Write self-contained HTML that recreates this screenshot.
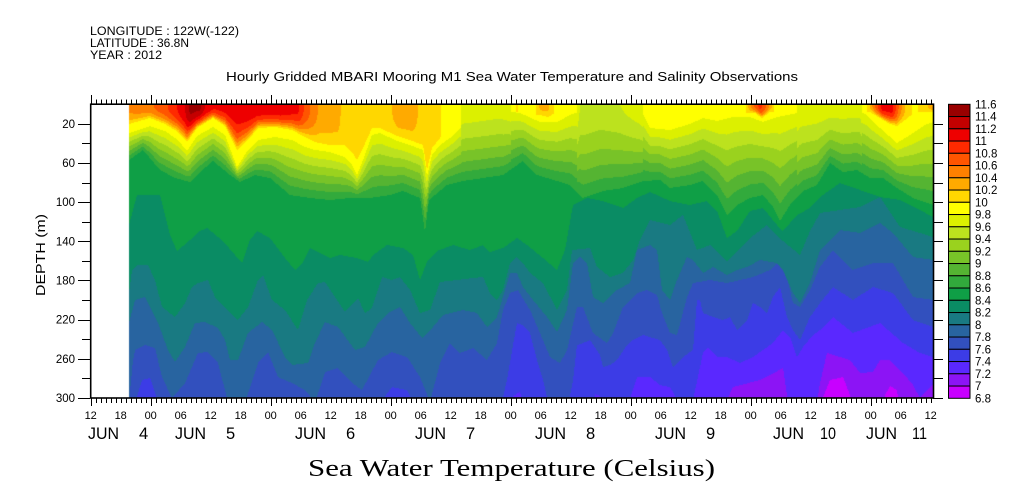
<!DOCTYPE html>
<html>
<head>
<meta charset="utf-8">
<style>
html,body{margin:0;padding:0;background:#fff;}
#wrap{position:relative;width:1009px;height:504px;overflow:hidden;background:#fff;}
#c{position:absolute;left:91px;top:105px;}
#s{position:absolute;left:0;top:0;}
text{font-family:"Liberation Sans",sans-serif;fill:#000;}
</style>
</head>
<body>
<div id="wrap">
<canvas id="c" width="842" height="293"></canvas>
<svg id="s" width="1009" height="504" xmlns="http://www.w3.org/2000/svg">
  <!-- header -->
  <text x="90" y="35" font-size="11.5" textLength="149" lengthAdjust="spacingAndGlyphs">LONGITUDE : 122W(-122)</text>
  <text x="90" y="47" font-size="11.5" textLength="99" lengthAdjust="spacingAndGlyphs">LATITUDE : 36.8N</text>
  <text x="90" y="59" font-size="11.5" textLength="72" lengthAdjust="spacingAndGlyphs">YEAR : 2012</text>
  <text x="226" y="81" font-size="13" textLength="572" lengthAdjust="spacingAndGlyphs">Hourly Gridded MBARI Mooring M1 Sea Water Temperature and Salinity Observations</text>

  <!-- frame -->
  <rect x="90.7" y="104.2" width="842.8" height="293.8" fill="none" stroke="#000" stroke-width="1.6"/>
  <path id="ticks" d="" stroke="#000" stroke-width="1" fill="none"/>

  <!-- y labels -->
  <g font-size="11.5" text-anchor="end">
    <text x="75" y="127.8">20</text>
    <text x="75" y="167">60</text>
    <text x="75" y="206.1">100</text>
    <text x="75" y="245.3">140</text>
    <text x="75" y="284.5">180</text>
    <text x="75" y="323.6">220</text>
    <text x="75" y="362.8">260</text>
    <text x="75" y="402">300</text>
  </g>
  <text x="45" y="255" font-size="12.5" text-anchor="middle" transform="rotate(-90 45 255)" textLength="82" lengthAdjust="spacingAndGlyphs" dx="0" dy="0">DEPTH (m)</text>

  <!-- x labels -->
  <g font-size="11" text-anchor="middle">
    <text x="90.7" y="419">12</text><text x="120.7" y="419">18</text><text x="150.7" y="419">00</text><text x="180.7" y="419">06</text>
    <text x="210.7" y="419">12</text><text x="240.7" y="419">18</text><text x="270.7" y="419">00</text><text x="300.7" y="419">06</text>
    <text x="330.7" y="419">12</text><text x="360.7" y="419">18</text><text x="390.7" y="419">00</text><text x="420.7" y="419">06</text>
    <text x="450.7" y="419">12</text><text x="480.7" y="419">18</text><text x="510.7" y="419">00</text><text x="540.7" y="419">06</text>
    <text x="570.7" y="419">12</text><text x="600.7" y="419">18</text><text x="630.7" y="419">00</text><text x="660.7" y="419">06</text>
    <text x="690.7" y="419">12</text><text x="720.7" y="419">18</text><text x="750.7" y="419">00</text><text x="780.7" y="419">06</text>
    <text x="810.7" y="419">12</text><text x="840.7" y="419">18</text><text x="870.7" y="419">00</text><text x="900.7" y="419">06</text>
    <text x="930.7" y="419">12</text>
  </g>
  <g font-size="16.5">
    <text x="88" y="439" textLength="31" lengthAdjust="spacingAndGlyphs">JUN</text><text x="139" y="439">4</text>
    <text x="175" y="439" textLength="31" lengthAdjust="spacingAndGlyphs">JUN</text><text x="226" y="439">5</text>
    <text x="295" y="439" textLength="31" lengthAdjust="spacingAndGlyphs">JUN</text><text x="346" y="439">6</text>
    <text x="415" y="439" textLength="31" lengthAdjust="spacingAndGlyphs">JUN</text><text x="466" y="439">7</text>
    <text x="535" y="439" textLength="31" lengthAdjust="spacingAndGlyphs">JUN</text><text x="586" y="439">8</text>
    <text x="655" y="439" textLength="31" lengthAdjust="spacingAndGlyphs">JUN</text><text x="706" y="439">9</text>
    <text x="773" y="439" textLength="31" lengthAdjust="spacingAndGlyphs">JUN</text><text x="820" y="439" textLength="16" lengthAdjust="spacingAndGlyphs">10</text>
    <text x="866" y="439" textLength="31" lengthAdjust="spacingAndGlyphs">JUN</text><text x="912" y="439" textLength="15" lengthAdjust="spacingAndGlyphs">11</text>
  </g>

  <text x="308" y="476" font-family="Liberation Serif, serif" font-size="24" textLength="407" lengthAdjust="spacingAndGlyphs" style="font-family:'Liberation Serif',serif">Sea Water Temperature (Celsius)</text>

  <!-- colorbar -->
  <g id="cbar" stroke="#000" stroke-width="1"></g>
  <g font-size="11.5">
    <text x="975" y="108.3">11.6</text>
    <text x="975" y="120.55">11.4</text>
    <text x="975" y="132.8">11.2</text>
    <text x="975" y="145.05">11</text>
    <text x="975" y="157.3">10.8</text>
    <text x="975" y="169.55">10.6</text>
    <text x="975" y="181.8">10.4</text>
    <text x="975" y="194.05">10.2</text>
    <text x="975" y="206.3">10</text>
    <text x="975" y="218.55">9.8</text>
    <text x="975" y="230.8">9.6</text>
    <text x="975" y="243.05">9.4</text>
    <text x="975" y="255.3">9.2</text>
    <text x="975" y="267.55">9</text>
    <text x="975" y="279.8">8.8</text>
    <text x="975" y="292.05">8.6</text>
    <text x="975" y="304.3">8.4</text>
    <text x="975" y="316.55">8.2</text>
    <text x="975" y="328.8">8</text>
    <text x="975" y="341.05">7.8</text>
    <text x="975" y="353.3">7.6</text>
    <text x="975" y="365.55">7.4</text>
    <text x="975" y="377.8">7.2</text>
    <text x="975" y="390.05">7</text>
    <text x="975" y="402.3">6.8</text>
  </g>
</svg>
</div>
<script>
(function(){
var cols=['#c800ff','#8c14f5','#5a28ff','#3c3ce6','#3250be','#2864a0','#197a82','#0a8c64','#0f9f46','#32aa3c','#55b432','#78c328','#9ad21e','#bce21e','#dcf000','#ffff00','#ffd700','#ffaa00','#ff8000','#ff5500','#ff2a00','#ee0000','#c40000','#990000'];
// colorbar
var NS='http://www.w3.org/2000/svg';
var cb=document.getElementById('cbar');
for(var i=0;i<24;i++){
  var r=document.createElementNS(NS,'rect');
  r.setAttribute('x',948.5);r.setAttribute('y',(104.3+12.25*i).toFixed(2));
  r.setAttribute('width',21.5);r.setAttribute('height',12.25);
  r.setAttribute('fill',cols[23-i]);cb.appendChild(r);
}
// ticks
var d='';
for(var k=0;k<=168;k++){
  var x=Math.round(90.7+5*k)+0.5;
  var major=(k===0)||((k-12)%24===0);
  d+='M'+x+' 104V'+(major?95:99.5);
  d+='M'+x+' 398V'+(major?406:403);
}
for(var dep=20;dep<=300;dep+=20){
  var y=Math.round(104.2+0.9793*dep)+0.5;
  var lab=((dep-20)%40===0);
  d+='M'+(lab?78:82)+' '+y+'H90';
  d+='M933 '+y+'H943';
}
document.getElementById('ticks').setAttribute('d',d);

// field
function interp(p,x){
  if(x<=p[0])return p[1];
  for(var i=2;i<p.length;i+=2){
    if(x<=p[i]){var x0=p[i-2],y0=p[i-1],x1=p[i],y1=p[i+1];return y0+(y1-y0)*(x-x0)/(x1-x0);}
  }
  return p[p.length-1];
}
var TS=[129,10.45,150,10.55,165,10.75,175,10.95,185,11.2,190,11.45,200,11.45,205,11.2,215,11.05,230,11.1,250,11.15,280,11.15,298,11.05,305,10.75,312,10.55,320,10.35,338,10.3,342,10.15,370,10.1,390,10.15,398,10.35,412,10.35,420,10.15,438,10.1,442,9.95,458,9.9,462,9.75,500,9.7,510,9.75,513,9.9,517,10.05,521,9.9,535,9.9,540,10.25,548,10.25,555,9.95,575,9.9,580,9.6,600,9.55,620,9.6,640,9.75,650,9.9,700,9.9,745,9.95,752,10.5,760,10.9,768,10.5,775,9.95,790,9.9,800,9.75,860,9.7,867,10.0,875,10.6,882,11.1,892,11.1,900,10.5,907,10.1,915,9.95,925,10.1,933,10.4];
var P100=[129,124,150,118,165,124,178,132,187,142,197,128,213,118,225,126,237,150,248,140,258,128,275,127,292,130,305,137,315,142,330,145,345,145,352,152,357,160,363,148,372,128,380,128,395,135,410,140,423,145,427,170,432,148,440,138,450,125,500,110,540,115,548,117,560,110,700,110,755,113,762,118,770,112,860,110,870,112,880,118,890,124,897,126,905,120,915,112,933,112];
var P98=[129,133,150,126,165,131,178,140,187,151,197,136,213,127,225,135,237,167,248,150,258,140,275,137,292,140,305,147,315,150,330,152,345,157,352,165,357,175,363,160,372,135,380,133,395,140,410,145,423,150,427,176,432,155,440,145,450,138,460,128,470,120,480,114,500,110,520,113,540,122,557,122,570,115,590,108,640,108,650,128,670,130,690,124,703,118,717,121,733,117,750,117,763,122,777,117,793,114,805,110,850,108,865,114,880,128,897,143,910,135,925,125,933,122];
var P86=[129,160,143,150,160,170,175,178,190,182,200,172,213,161,230,175,240,182,255,175,270,178,290,195,310,198,330,200,350,198,370,198,390,195,403,191,420,198,425,232,429,200,447,185,463,181,483,178,503,175,523,161,537,175,557,181,570,185,583,198,603,191,623,188,643,181,660,180,670,188,690,185,703,181,717,195,727,215,737,205,750,198,763,195,773,207,780,221,790,205,803,191,817,185,830,163,843,172,857,170,870,178,883,178,897,188,913,198,933,205];
var P84=[129,225,137,195,160,195,165,215,170,235,177,251,190,240,200,231,207,228,223,241,235,255,242,263,250,240,257,231,270,238,285,258,295,270,303,262,310,248,330,258,340,255,357,258,368,262,373,255,387,245,403,248,413,255,420,280,427,262,437,251,453,245,470,250,483,245,490,252,503,248,517,238,527,245,543,258,557,270,565,250,573,205,587,198,603,201,623,208,637,198,650,192,670,201,690,205,707,201,717,211,727,238,737,231,750,211,763,208,777,225,783,231,797,215,810,208,820,197,840,183,860,190,880,197,900,200,920,210,933,217];
var P82=[129,293,132,270,138,265,148,265,155,280,162,307,175,317,185,303,192,287,198,283,208,280,215,297,225,307,238,320,248,307,258,280,263,275,272,300,285,310,298,330,307,300,318,283,325,282,335,297,345,312,358,298,365,313,372,308,382,277,392,280,400,277,410,290,420,313,430,310,440,282,457,280,473,278,483,277,490,293,497,300,503,290,510,263,517,257,523,263,530,273,543,283,557,310,567,290,572,250,590,248,597,267,610,277,623,273,633,260,640,240,650,220,670,225,683,215,697,250,710,245,727,261,737,251,750,238,767,225,783,241,800,255,810,231,820,213,840,210,860,207,880,197,900,227,920,233,933,237];
var P80=[129,323,135,300,145,297,158,323,168,350,175,362,185,347,195,323,205,322,218,328,225,340,230,360,238,360,248,333,262,322,272,330,285,357,292,365,308,363,315,343,325,322,338,327,355,350,365,347,378,323,388,313,400,307,410,323,422,338,433,327,443,315,463,310,477,313,487,327,497,317,505,290,510,273,517,273,523,287,533,300,547,317,557,332,567,310,573,263,580,257,587,263,593,297,603,303,617,290,630,283,637,250,650,245,657,250,662,290,670,300,677,280,687,257,693,260,703,273,713,267,727,275,737,270,747,267,760,260,777,263,783,270,793,293,800,303,810,283,820,250,840,230,860,233,880,223,893,233,913,257,933,260];
var P78=[129,402,133,360,135,350,145,345,155,348,162,377,172,398,185,383,198,353,208,352,218,363,228,402,245,402,258,363,268,352,278,377,292,383,305,390,315,402,325,372,338,368,352,383,362,390,378,360,392,352,407,357,420,377,430,402,440,363,450,343,460,353,473,348,487,360,497,343,503,310,510,293,518,290,530,310,540,333,550,357,560,363,567,350,577,307,583,307,593,333,607,343,613,333,623,307,637,293,647,290,657,295,662,313,670,333,677,335,687,297,693,283,710,280,727,283,740,280,753,277,770,270,780,260,787,277,793,303,800,307,810,290,820,267,833,250,853,270,873,263,893,263,913,297,933,300];
var P76=[129,410,136,400,142,380,150,378,157,398,162,410,380,410,386,395,392,387,407,390,415,405,425,410,500,410,507,380,513,345,517,323,523,325,530,333,537,360,543,380,550,410,567,410,573,380,577,345,583,343,590,340,600,355,603,367,610,365,617,360,627,345,633,340,643,335,660,340,667,350,673,367,683,357,693,350,697,300,700,300,703,313,713,317,723,320,730,317,737,330,747,320,753,303,760,307,767,313,773,297,780,287,787,317,793,330,800,340,810,317,820,303,833,287,853,300,873,287,893,293,913,320,933,327];
var P74=[129,420,505,420,513,396,520,392,527,420,590,420,595,394,600,396,605,420,628,405,637,377,650,377,660,385,670,387,683,410,693,400,703,353,708,347,717,357,727,357,740,363,753,357,763,350,773,343,783,330,790,337,797,357,803,347,813,335,820,330,833,317,853,333,880,323,903,343,920,353,933,357];
var P72=[129,430,720,430,727,400,733,387,760,380,770,375,783,368,787,395,790,430,813,430,820,383,827,353,850,360,860,373,873,372,880,360,890,360,903,373,913,385,920,398,927,390,933,385];
var P70=[129,440,812,440,822,400,830,380,843,377,850,395,858,440,880,440,885,395,890,386,897,390,903,440,933,440];
var LV=[[10.0,P100],[9.8,P98],[8.6,P86],[8.4,P84],[8.2,P82],[8.0,P80],[7.8,P78],[7.6,P76],[7.4,P74],[7.2,P72],[7.0,P70]];
var rgb=cols.map(function(h){return [parseInt(h.substr(1,2),16),parseInt(h.substr(3,2),16),parseInt(h.substr(5,2),16)];});
var cv=document.getElementById('c');
var ctx=cv.getContext('2d');
var W=842,H=293,X0=91,Y0=105;
var img=ctx.createImageData(W,H);var dd=img.data;
for(var cx=0;cx<W;cx++){
  var X=X0+cx+0.5;
  if(X<129)continue;
  var ts=interp(TS,X);
  var ky=[104],kt=[ts];
  for(var l=0;l<LV.length;l++){
    var lv=LV[l][0];
    if(lv>=ts)continue;
    var yy=interp(LV[l][1],X);
    var ly=ky[ky.length-1];
    if(yy<ly+0.5)yy=ly+0.5;
    ky.push(yy);kt.push(lv);
  }
  ky.push(2000);kt.push(0);
  var p=ts>10.0?2.8:1.5;
  for(var cy=0;cy<H;cy++){
    var Y=Y0+cy+0.5,T;
    var j=1;while(ky[j]<Y)j++;
    if(j===1){var s=(Y-104)/(ky[1]-104);if(s<0)s=0;T=kt[1]+(ts-kt[1])*(1-Math.pow(s,p));}
    else{T=kt[j-1]+(kt[j]-kt[j-1])*(Y-ky[j-1])/(ky[j]-ky[j-1]);}
    var b=Math.floor((T-6.8)/0.2+1e-6);
    if(b<0)b=0;if(b>23)b=23;
    var c=rgb[b];var o=(cy*W+cx)*4;
    dd[o]=c[0];dd[o+1]=c[1];dd[o+2]=c[2];dd[o+3]=255;
  }
}
ctx.putImageData(img,0,0);
})();
</script>
</body>
</html>
